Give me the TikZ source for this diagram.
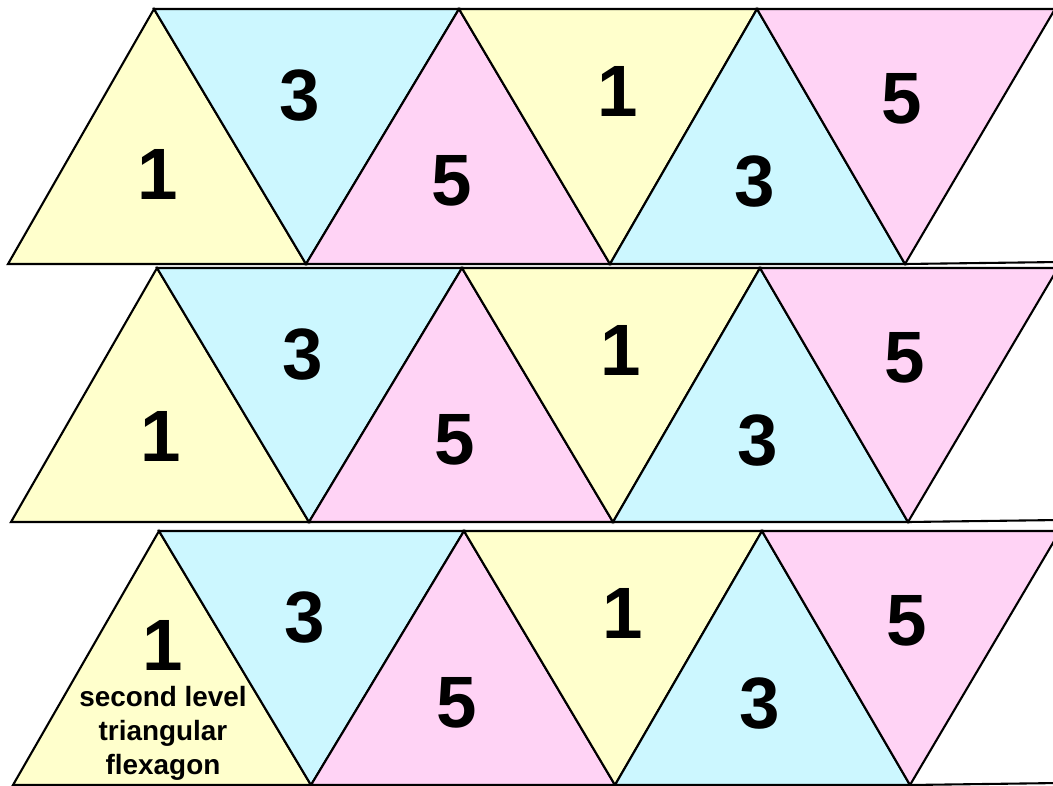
\documentclass[tikz,border=0pt]{standalone}
\usepackage{fontspec}
\setmainfont{Liberation Sans}
\usetikzlibrary{positioning}
\definecolor{fyel}{HTML}{FFFFCC}
\definecolor{fcyn}{HTML}{CCF7FF}
\definecolor{fpnk}{HTML}{FFD3F5}
\tikzset{
  face/.style={draw=black,line width=2.1pt,line join=miter},
  num/.style={font=\bfseries\fontsize{73}{73}\selectfont,inner sep=0pt},
  note/.style={font=\bfseries\fontsize{28}{34}\selectfont,align=center,inner sep=0pt},
  tail/.style={draw=black,line width=2.1pt},
}
\begin{document}
\begin{tikzpicture}[x=1bp,y=-1bp]
\useasboundingbox (0,0) rectangle (1053,786);
% three strips of the net, each sits a little further right
\foreach \dx/\yt/\yb/\r/\fy in {0/9/264/a/165,3/268/522/b/168,5/531/785/c/114}{
  \coordinate (\r b0) at (8+\dx,\yb);
  \coordinate (\r b1) at (306+\dx,\yb);
  \coordinate (\r b2) at (610+\dx,\yb);
  \coordinate (\r b3) at (905+\dx,\yb);
  \coordinate (\r t0) at (154+\dx,\yt);
  \coordinate (\r t1) at (459+\dx,\yt);
  \coordinate (\r t2) at (757+\dx,\yt);
  \coordinate (\r t3) at (1055+\dx,\yt);
  \coordinate (\r end) at (1060,\yb-2);
  \filldraw[face,fill=fyel] (\r b0) -- (\r t0) -- (\r b1) -- cycle;
  \filldraw[face,fill=fcyn] (\r t0) -- (\r t1) -- (\r b1) -- cycle;
  \filldraw[face,fill=fpnk] (\r b1) -- (\r t1) -- (\r b2) -- cycle;
  \filldraw[face,fill=fyel] (\r t1) -- (\r t2) -- (\r b2) -- cycle;
  \filldraw[face,fill=fcyn] (\r b2) -- (\r t2) -- (\r b3) -- cycle;
  \filldraw[face,fill=fpnk] (\r t2) -- (\r t3) -- (\r b3) -- cycle;
  \draw[tail] (\r b3) -- (\r end);
  \node[num] (\r n1) at (158+\dx,\yt+\fy) {1};
  \node[num] (\r n3) at (300+\dx,\yt+87) {3};
  \node[num] (\r n5) at (452+\dx,\yt+172) {5};
  \node[num] (\r m1) at (618+\dx,\yt+82) {1};
  \node[num] (\r m3) at (755+\dx,\yt+173) {3};
  \node[num] (\r m5) at (902+\dx,\yt+90) {5};
}
\node[note,below=16bp of cn1] (flex) {second level\\triangular\\flexagon};
\end{tikzpicture}
\end{document}
